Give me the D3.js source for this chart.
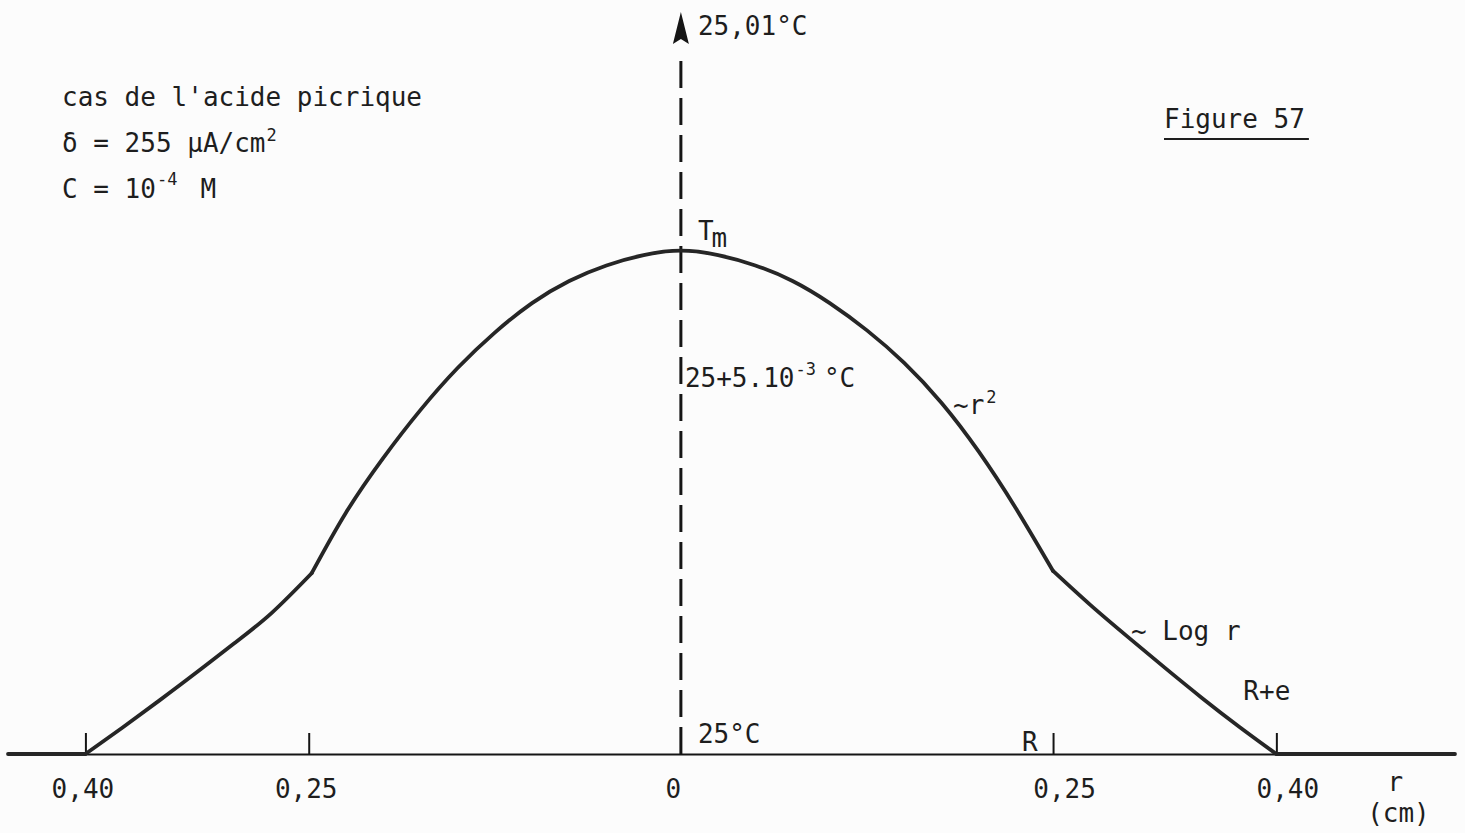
<!DOCTYPE html>
<html>
<head>
<meta charset="utf-8">
<script src="https://cdn.jsdelivr.net/npm/d3@7"></script>
<style>
  html, body { margin: 0; padding: 0; background: #fcfcfc; }
  svg { display: block; }
  text { font-family: 'DejaVu Sans Mono', monospace; font-size: 26px; fill: #1e1e1e; }
  .sup { font-size: 17px; }
</style>
</head>
<body>
<svg id="chart" width="1465" height="833"></svg>
<script>
// Radial position across the cell (cm); negative values are left of the axis
const radius = [-0.452, -0.400, -0.375, -0.350, -0.325, -0.300, -0.275, -0.248,
                -0.225, -0.200, -0.175, -0.150, -0.125, -0.100, -0.075, -0.050, -0.025,
                0.000, 0.025, 0.050, 0.075, 0.100, 0.125, 0.150, 0.175, 0.200, 0.225, 0.250,
                0.275, 0.300, 0.325, 0.350, 0.375, 0.400, 0.520];
// Temperature rise above 25 °C, in 10^-3 °C
const deltaT = [0, 0, 0.36, 0.73, 1.11, 1.50, 1.91, 2.45,
                3.27, 4.01, 4.66, 5.23, 5.71, 6.11, 6.41, 6.62, 6.76,
                6.82, 6.76, 6.62, 6.41, 6.11, 5.74, 5.30, 4.76, 4.10, 3.33, 2.48,
                2.02, 1.59, 1.17, 0.76, 0.37, 0, 0];
// Radii where the profile changes regime (wall, electrode edge R, R+e)
const regimeBreaks = [-0.400, -0.248, 0.250, 0.400];

const radiusExtent = [-0.452, 0.52];
const tempExtent = [0, 10];               // 25 °C .. 25,01 °C
const tickValues = [-0.40, -0.25, 0, 0.25, 0.40];
const tickLabels = ["0,40", "0,25", "0", "0,25", "0,40"];

const svg = d3.select("#chart");

const x = d3.scaleLinear().domain(radiusExtent).range([8, 1455]);
const y = d3.scaleLinear().domain(tempExtent).range([754, 16]);

// Horizontal r axis with upward ticks
const axis = d3.axisBottom(x)
  .tickValues(tickValues)
  .tickSizeInner(-21)
  .tickSizeOuter(0)
  .tickPadding(26)
  .tickFormat((d, i) => tickLabels[i]);

const gAxis = svg.append("g")
  .attr("transform", `translate(0,${y(0)})`)
  .call(axis);
gAxis.select(".domain").attr("stroke", "#151515").attr("stroke-width", 2.2);
gAxis.selectAll(".tick line").attr("stroke", "#151515").attr("stroke-width", 2);
gAxis.selectAll(".tick").filter(d => d === 0).select("line").remove();
gAxis.selectAll(".tick text")
  .attr("fill", "#1e1e1e")
  .style("font-family", "'DejaVu Sans Mono', monospace")
  .style("font-size", "26px")
  .attr("dx", d => d < 0 ? -3 : d > 0 ? 11 : -8);

// Axis unit
svg.append("text").attr("x", x(0.48)).attr("y", 791).attr("text-anchor", "middle").text("r");
svg.append("text").attr("x", x(0.48) + 3).attr("y", 822).attr("text-anchor", "middle").text("(cm)");

// Tick annotations
svg.append("text").attr("x", x(0.25) - 31).attr("y", 751).text("R");
svg.append("text").attr("x", x(0.40) - 33).attr("y", 700).text("R+e");

// Vertical temperature axis: dashed line with arrow head
const x0 = x(0);
svg.append("line")
  .attr("x1", x0).attr("x2", x0)
  .attr("y1", y(0)).attr("y2", y(10) + 38)
  .attr("stroke", "#151515").attr("stroke-width", 3)
  .attr("stroke-dasharray", "27,10");
svg.append("path")
  .attr("d", `M${x0},${y(10) - 4} L${x0 + 8},${y(10) + 28} L${x0},${y(10) + 23} L${x0 - 8},${y(10) + 28} Z`)
  .attr("fill", "#151515");

// Temperature labels on the vertical axis
svg.append("text").attr("x", x0 + 17).attr("y", y(10) + 19).text("25,01°C");
svg.append("text").attr("x", x0 + 17).attr("y", y(0) - 11).text("25°C");
const mid = svg.append("text").attr("x", x0 + 4).attr("y", y(5) + 2);
mid.append("tspan").text("25+5.10");
mid.append("tspan").attr("class", "sup").attr("dy", -12).attr("dx", 1).text("-3");
mid.append("tspan").attr("dy", 12).attr("dx", 8).text("°C");

// Temperature profile, drawn piecewise between regime changes
const profile = radius.map((r, i) => ({ r, t: deltaT[i] }));
const bounds = [radiusExtent[0], ...regimeBreaks, radiusExtent[1]];
const pieces = d3.pairs(bounds).map(([a, b]) =>
  profile.filter(d => d.r >= a - 1e-9 && d.r <= b + 1e-9));

const smooth = d3.line().x(d => x(d.r)).y(d => y(d.t)).curve(d3.curveNatural);
const straight = d3.line().x(d => x(d.r)).y(d => y(d.t));

svg.selectAll(".profile")
  .data(pieces)
  .join("path")
  .attr("class", "profile")
  .attr("d", p => (p.every(d => d.t === 0) ? straight : smooth)(p))
  .attr("fill", "none")
  .attr("stroke", "#262626")
  .attr("stroke-width", 3.8)
  .attr("stroke-linejoin", "round")
  .attr("stroke-linecap", "round");

// Peak label
const tm = svg.append("text").attr("x", x0 + 17).attr("y", 240);
tm.append("tspan").text("T");
tm.append("tspan").attr("dx", -2).attr("dy", 7).text("m");

// Regime labels on the curve
const r2 = svg.append("text").attr("x", 953).attr("y", 414);
r2.append("tspan").text("~r");
r2.append("tspan").attr("class", "sup").attr("dy", -11).attr("dx", 2).text("2");
svg.append("text").attr("x", 1131).attr("y", 640).text("~ Log r");

// Experimental conditions
svg.append("text").attr("x", 62).attr("y", 106).text("cas de l'acide picrique");
const cd = svg.append("text").attr("x", 62).attr("y", 152);
cd.append("tspan").text("δ = 255 µA/cm");
cd.append("tspan").attr("class", "sup").attr("dy", -11).attr("dx", 1).text("2");
const conc = svg.append("text").attr("x", 62).attr("y", 198);
conc.append("tspan").text("C = 10");
conc.append("tspan").attr("class", "sup").attr("dy", -13).attr("dx", 1).text("-4");
conc.append("tspan").attr("dy", 13).attr("dx", 23).text("M");

// Figure caption, underlined
const cap = svg.append("text").attr("x", 1164).attr("y", 128).text("Figure 57");
const bb = cap.node().getBBox();
svg.append("line")
  .attr("x1", bb.x).attr("x2", bb.x + bb.width + 4)
  .attr("y1", 139).attr("y2", 139)
  .attr("stroke", "#1e1e1e").attr("stroke-width", 2);
</script>
</body>
</html>
